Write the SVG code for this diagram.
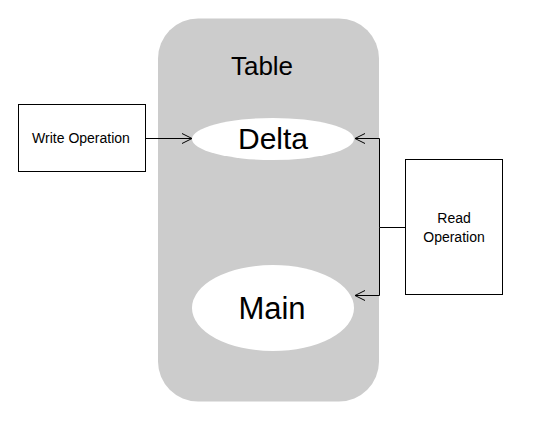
<svg xmlns="http://www.w3.org/2000/svg" width="541" height="421" viewBox="0 0 541 421">
<style>
text{font-family:"Liberation Sans",Arial,sans-serif;fill:#000;text-anchor:middle}
.box{fill:#fff;stroke:#000;stroke-width:1}
.ell{fill:#fff;stroke:none}
.conn{fill:none;stroke:#000;stroke-width:1}
</style>
<defs>
<marker id="arr" markerWidth="12" markerHeight="12" refX="11" refY="6" orient="auto" markerUnits="userSpaceOnUse">
<path d="M1,1 L11,6 L1,11" fill="none" stroke="#000" stroke-width="1"/>
</marker>
</defs>
<rect width="541" height="421" fill="#fff"/>
<g id="table">
<rect x="158" y="18.5" width="221" height="383" rx="40" ry="40" fill="#cccccc"/>
<text x="262" y="75" font-size="26">Table</text>
</g>
<g id="delta">
<ellipse class="ell" cx="273" cy="139" rx="81" ry="21"/>
<text x="273" y="149" font-size="30">Delta</text>
</g>
<g id="main">
<ellipse class="ell" cx="273" cy="308" rx="81" ry="43"/>
<text x="272" y="319" font-size="31">Main</text>
</g>
<g id="write">
<rect class="box" x="18.5" y="104.5" width="127" height="67"/>
<text x="81" y="143" font-size="14">Write Operation</text>
</g>
<g id="read">
<rect class="box" x="405.5" y="159.5" width="97" height="135"/>
<text x="454" y="223" font-size="14">Read</text>
<text x="454" y="242" font-size="14">Operation</text>
</g>
<g id="connectors">
<path class="conn" d="M145.5,138.5 H192" marker-end="url(#arr)"/>
<path class="conn" d="M405.5,227.5 H379.5 V138.5 H355" marker-end="url(#arr)"/>
<path class="conn" d="M379.5,227.5 V295.5 H355" marker-end="url(#arr)"/>
</g>
</svg>
